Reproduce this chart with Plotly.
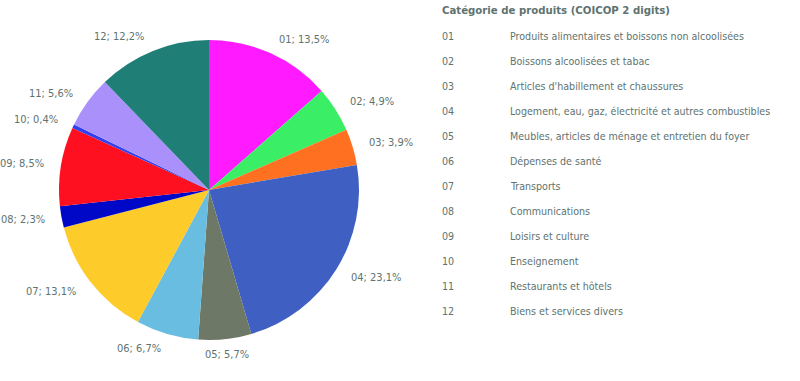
import math
import plotly.graph_objects as go

codes = ["01", "02", "03", "04", "05", "06", "07", "08", "09", "10", "11", "12"]
shares = [13.5, 4.9, 3.9, 23.1, 5.7, 6.7, 13.1, 2.3, 8.5, 0.4, 5.6, 12.2]
names = [
    "Produits alimentaires et boissons non alcoolisées",
    "Boissons alcoolisées et tabac",
    "Articles d'habillement et chaussures",
    "Logement, eau, gaz, électricité et autres combustibles",
    "Meubles, articles de ménage et entretien du foyer",
    "Dépenses de santé",
    "Transports",
    "Communications",
    "Loisirs et culture",
    "Enseignement",
    "Restaurants et hôtels",
    "Biens et services divers",
]
colors = ["#FF1AFF", "#3AEE66", "#FF7020", "#3F60C2", "#6E7866", "#68BDE0",
          "#FDCB2A", "#0008C8", "#FF1020", "#3040F0", "#A990FA", "#1F7F77"]
legend_title = "Catégorie de produits (COICOP 2 digits)"

W, H = 800, 381
TXT = "#5E7370"
FONT = "DejaVu Sans Condensed, Roboto Condensed, sans-serif"

cx, cy, R = 209, 190, 150

fig = go.Figure()
fig.add_trace(go.Pie(
    labels=codes, values=shares, sort=False, direction="clockwise", rotation=0,
    marker=dict(colors=colors, line=dict(width=0)),
    textinfo="none", hoverinfo="label+percent", showlegend=False,
    domain=dict(x=[(cx - R) / W, (cx + R) / W], y=[1 - (cy + R) / H, 1 - (cy - R) / H]),
))

ann = []
total = sum(shares)
cum = 0.0
for c, v in zip(codes, shares):
    mid = (cum + v / 2) / total * 2 * math.pi
    cum += v
    s, k = math.sin(mid), -math.cos(mid)
    px = cx + 1.1 * R * s
    py = cy + 1.1 * R * k
    xa = "left" if s > 0.2 else ("right" if s < -0.2 else "center")
    label = f"{c}; {str(v).replace('.', ',')}%"
    ann.append(dict(x=px / W, y=1 - py / H, xref="paper", yref="paper", text=label,
                    showarrow=False, xanchor=xa, yanchor="middle",
                    font=dict(family=FONT, size=11, color=TXT)))

ann.append(dict(x=440 / W, y=1 - 11 / H, xref="paper", yref="paper", text=f"<b>{legend_title}</b>",
                showarrow=False, xanchor="left", yanchor="middle",
                font=dict(family=FONT, size=11.3, color=TXT)))
for i, (c, n) in enumerate(zip(codes, names)):
    yy = 1 - (36 + i * 25) / H
    ann.append(dict(x=440 / W, y=yy, xref="paper", yref="paper", text=c, showarrow=False,
                    xanchor="left", yanchor="middle", font=dict(family=FONT, size=10.6, color=TXT)))
    ann.append(dict(x=508 / W, y=yy, xref="paper", yref="paper", text=n, showarrow=False,
                    xanchor="left", yanchor="middle", font=dict(family=FONT, size=10.6, color=TXT)))

fig.update_layout(width=W, height=H, margin=dict(l=0, r=0, t=0, b=0),
                  paper_bgcolor="white", plot_bgcolor="white", annotations=ann)
fig.write_html("out.html")
